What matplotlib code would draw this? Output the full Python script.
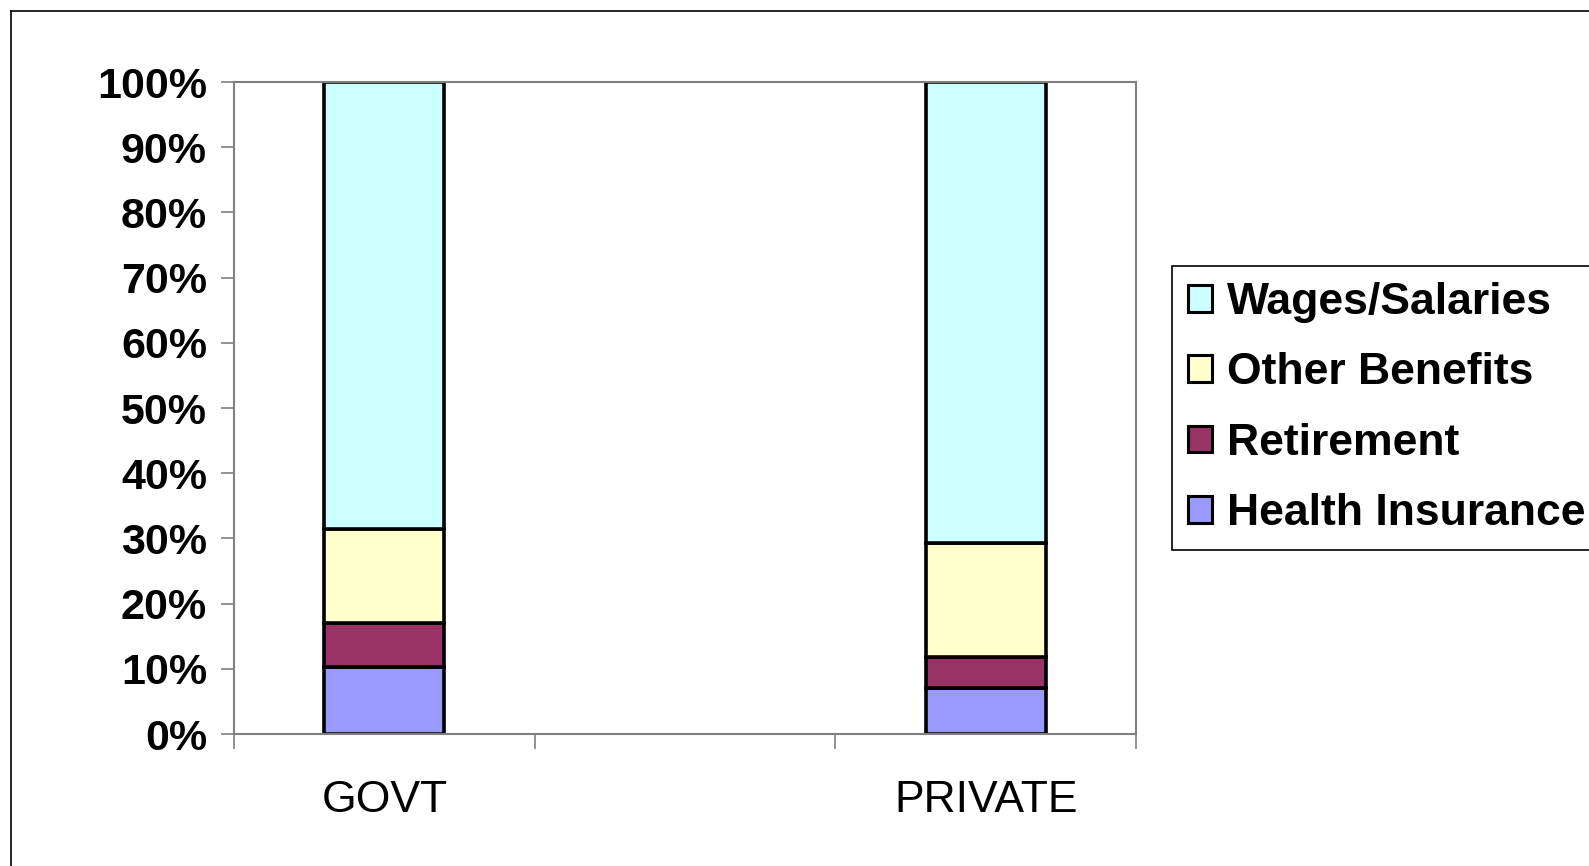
import numpy as np
import matplotlib
matplotlib.use('Agg')
import matplotlib.pyplot as plt
from matplotlib.patches import Patch
from matplotlib.lines import Line2D

plt.rcParams['font.family'] = ['Liberation Sans', 'DejaVu Sans']

# data (percent of total compensation)
categories = ['GOVT', '', 'PRIVATE']
health = [10.2, 0, 7.1]
retirement = [6.8, 0, 4.7]
other_benefits = [14.5, 0, 17.5]
wages = [68.5, 0, 70.7]

series = ['Health Insurance', 'Retirement', 'Other Benefits', 'Wages/Salaries']
colors = ['#9999FF', '#993366', '#FFFFCC', '#CCFFFF']

fig = plt.figure(figsize=(15.89, 8.66), dpi=100)
ax = fig.add_axes([234/1589, 1-734/866, (1136-234)/1589, (734-82)/866])

x = np.arange(len(categories))
vals = [health, retirement, other_benefits, wages]
mask = np.array([cat != '' for cat in categories])
bottom = np.zeros(len(categories))
for name, v, c in zip(series, vals, colors):
    v = np.array(v)
    ax.bar(x[mask], v[mask], bottom=bottom[mask], width=0.4, color=c,
           edgecolor='black', linewidth=2.6)
    bottom = bottom + v

ax.set_xlim(-0.5, 2.5)
ax.set_ylim(0, 100)
ax.set_yticks(np.arange(0, 101, 10))
ax.set_yticklabels(['%d%%' % t for t in range(0, 101, 10)],
                   fontsize=31, fontweight='bold')
ax.tick_params(axis='y', direction='out', length=9.5, width=1.2,
               color='#808080', pad=10)

ax.set_xticks(x)
ax.set_xticklabels(categories, fontsize=32)
ax.tick_params(axis='x', which='major', length=0, pad=33)
ax.set_xticks([-0.5, 0.5, 1.5, 2.5], minor=True)
ax.tick_params(axis='x', which='minor', direction='out', length=11,
               width=1.2, color='#808080')

for s in ax.spines.values():
    s.set_color('#808080')
    s.set_linewidth(1.5)

# legend, reversed order like the original
handles = [Patch(facecolor=c, edgecolor='black', linewidth=2.2)
           for c in colors[::-1]]
leg = fig.legend(handles, series[::-1], loc='upper left',
                 bbox_to_anchor=(1172/1589, 1-266/866), borderaxespad=0,
                 prop={'size': 32, 'weight': 'bold'},
                 handlelength=0.55, handleheight=0.55, handletextpad=0.32,
                 labelspacing=0.66, borderpad=0.36, fancybox=False,
                 framealpha=1, edgecolor='black')
leg.get_frame().set_linewidth(1.2)

# outer chart border
fig.add_artist(Line2D([11/1589, 1.0], [1-11/866, 1-11/866], color='black', lw=1.2))
fig.add_artist(Line2D([11/1589, 11/1589], [0, 1-11/866], color='black', lw=1.2))

fig.savefig('out.png', dpi=100)
